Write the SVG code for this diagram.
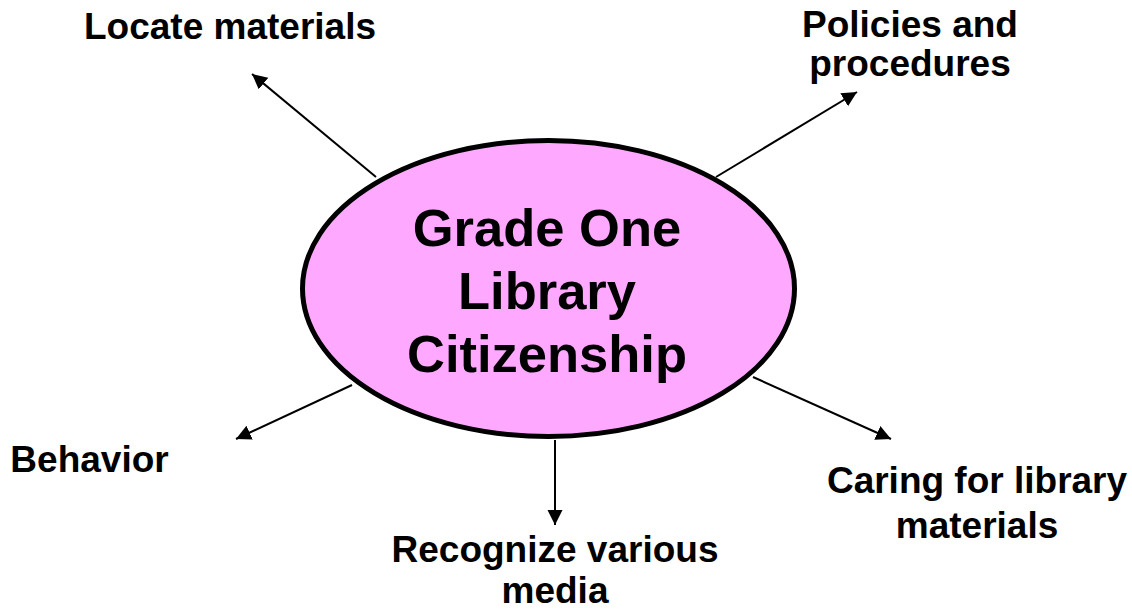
<svg xmlns="http://www.w3.org/2000/svg" width="1132" height="610" viewBox="0 0 1132 610">
<style>
  .lbl { font-family: "Liberation Sans", Arial, sans-serif; font-weight: bold; font-size: 37px; fill: #000; text-anchor: middle; }
  .ctr { font-family: "Liberation Sans", Arial, sans-serif; font-weight: bold; font-size: 52.5px; fill: #000; text-anchor: middle; }
  .conn { stroke: #000; stroke-width: 2; fill: none; marker-end: url(#arrow); }
</style>
<defs>
  <marker id="arrow" markerUnits="userSpaceOnUse" markerWidth="16" markerHeight="16" refX="15" refY="7.5" orient="auto">
    <path d="M0,0 L15,7.5 L0,15 z" fill="#000"/>
  </marker>
</defs>
<rect width="1132" height="610" fill="#fff"/>
<g id="connectors">
  <line class="conn" x1="376" y1="177" x2="252" y2="74"/>
  <line class="conn" x1="716" y1="177" x2="857" y2="92"/>
  <line class="conn" x1="352" y1="385" x2="236" y2="439"/>
  <line class="conn" x1="753" y1="377" x2="891" y2="439"/>
  <line class="conn" x1="555" y1="440" x2="555" y2="525"/>
</g>
<g id="center">
  <ellipse cx="548.5" cy="288.5" rx="246" ry="148" fill="#FFA8FF" stroke="#000" stroke-width="5"/>
  <text class="ctr" x="547" y="246">Grade One</text>
  <text class="ctr" x="547" y="309">Library</text>
  <text class="ctr" x="547" y="372">Citizenship</text>
</g>
<g id="locate">
  <text class="lbl" x="230" y="39">Locate materials</text>
</g>
<g id="policies">
  <text class="lbl" x="910" y="37">Policies and</text>
  <text class="lbl" x="910" y="76">procedures</text>
</g>
<g id="behavior">
  <text class="lbl" x="89.5" y="472">Behavior</text>
</g>
<g id="caring">
  <text class="lbl" x="977" y="493">Caring for library</text>
  <text class="lbl" x="977" y="538">materials</text>
</g>
<g id="recognize">
  <text class="lbl" x="555" y="562">Recognize various</text>
  <text class="lbl" x="555" y="603">media</text>
</g>
</svg>
